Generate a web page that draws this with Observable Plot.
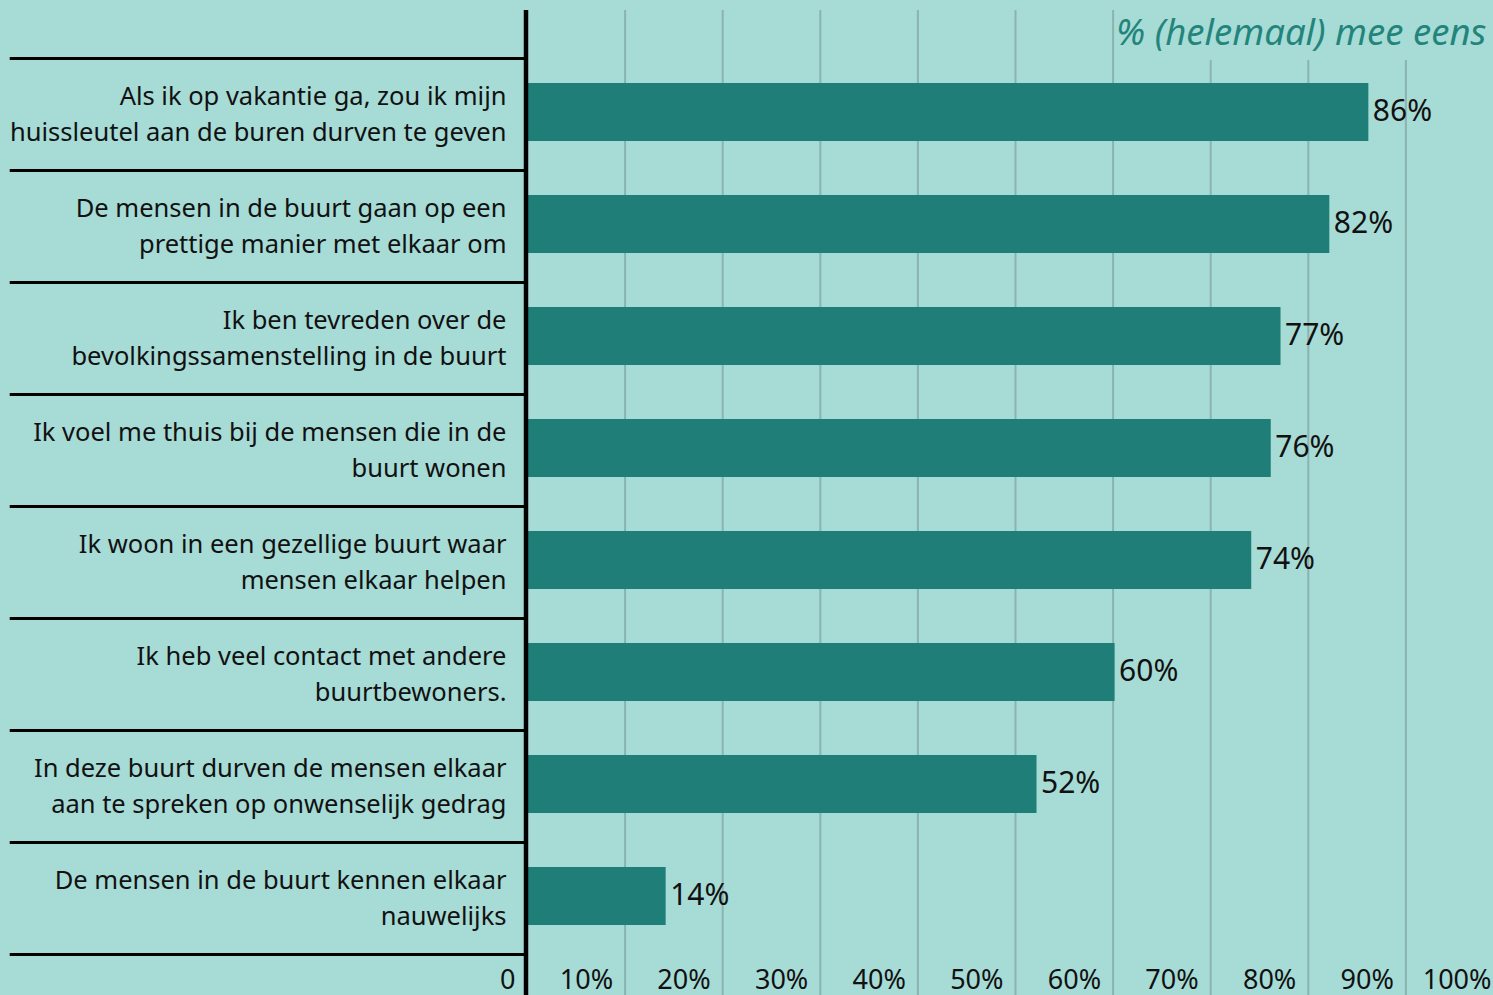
<!DOCTYPE html>
<html>
<head>
<meta charset="utf-8">
<script src="https://cdn.jsdelivr.net/npm/d3@7"></script>
<script src="https://cdn.jsdelivr.net/npm/@observablehq/plot@0.6"></script>
<style>
  html, body { margin: 0; padding: 0; background: #a6dbd6; }
  #wrap { position: relative; width: 1493px; height: 995px; overflow: hidden; }
  #title { position: absolute; top: 10px; left: 1116px; right: 0; height: 50px;
           background: #a6dbd6; color: #23847b; font-family: "Noto Sans", sans-serif;
           font-style: italic; font-size: 36.5px; line-height: 42px; white-space: nowrap; }
</style>
</head>
<body>
<div id="wrap"><div id="chart"></div><div id="title">% (helemaal) mee eens</div></div>
<script>
const categories = [
  "Als ik op vakantie ga, zou ik mijn\nhuissleutel aan de buren durven te geven",
  "De mensen in de buurt gaan op een\nprettige manier met elkaar om",
  "Ik ben tevreden over de\nbevolkingssamenstelling in de buurt",
  "Ik voel me thuis bij de mensen die in de\nbuurt wonen",
  "Ik woon in een gezellige buurt waar\nmensen elkaar helpen",
  "Ik heb veel contact met andere\nbuurtbewoners.",
  "In deze buurt durven de mensen elkaar\naan te spreken op onwenselijk gedrag",
  "De mensen in de buurt kennen elkaar\nnauwelijks"
];
const values = [86, 82, 77, 76, 74, 60, 52, 14];
const tickValues = [0, 10, 20, 30, 40, 50, 60, 70, 80, 90, 100];
const tickLabels = ["0", "10%", "20%", "30%", "40%", "50%", "60%", "70%", "80%", "90%", "100%"];
const gridValues = [10, 20, 30, 40, 50, 60, 70, 80, 90, 100];

const data = categories.map((c, i) => ({label: c, value: values[i]}));
const ticks = tickValues.map((v, i) => ({v, t: tickLabels[i]}));

const W = 1493, H = 995, mTop = 10, insTop = 48, insBottom = 41;
const step = (H - mTop - insTop - insBottom) / categories.length;

const chart = Plot.plot({
  width: W, height: H,
  marginLeft: 527, marginRight: -10, marginTop: mTop, marginBottom: 0,
  style: {fontFamily: "'Noto Sans', sans-serif", background: "#a6dbd6", color: "#111"},
  x: {domain: [0, 100], axis: null},
  y: {domain: categories, axis: null, insetTop: insTop, insetBottom: insBottom, paddingInner: 0.48, paddingOuter: 0.24},
  marks: [
    Plot.ruleX(gridValues, {stroke: "#8db3ae", strokeWidth: 2}),
    Plot.barX(data, {y: "label", x: "value", fill: "#1f7f78", insetLeft: 1, insetRight: -2, dy: -2}),
    Plot.ruleY(categories, {y: d => d, dy: -step / 2, x1: -53, x2: -0.3, stroke: "#000", strokeWidth: 3}),
    Plot.ruleY(categories.slice(-1), {y: d => d, dy: step / 2, x1: -53, x2: -0.3, stroke: "#000", strokeWidth: 3}),
    Plot.ruleX([0], {stroke: "#000", strokeWidth: 4.5, dx: -1.5}),
    Plot.text(data, {y: "label", x: 0, text: "label", textAnchor: "end", dx: -21, dy: -3, fontSize: 25.5, lineHeight: 1.41, fill: "#111"}),
    Plot.text(data, {y: "label", x: "value", text: d => d.value + "%", textAnchor: "start", dx: 6, dy: -3, fontSize: 30, fill: "#111"}),
    Plot.text(ticks, {x: "v", text: "t", frameAnchor: "bottom", textAnchor: "end", dx: -12, dy: -7, fontSize: 27, fill: "#111"})
  ]
});
document.getElementById("chart").appendChild(chart);
</script>
</body>
</html>
